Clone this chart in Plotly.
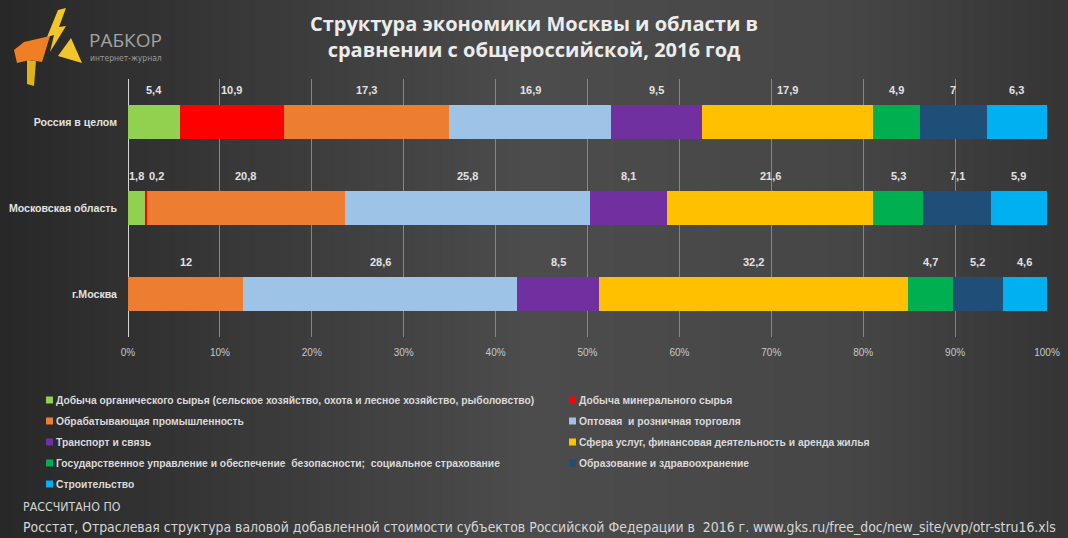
import plotly.graph_objects as go

# ---------------- data ----------------
categories = ["Россия в целом", "Московская область", "г.Москва"]
sectors = [
    "Добыча органического сырья (сельское хозяйство, охота и лесное хозяйство, рыболовство)",
    "Добыча минерального сырья",
    "Обрабатывающая промышленность",
    "Оптовая  и розничная торговля",
    "Транспорт и связь",
    "Сфера услуг, финансовая деятельность и аренда жилья",
    "Государственное управление и обеспечение  безопасности;  социальное страхование",
    "Образование и здравоохранение",
    "Строительство",
]
russia = [5.4, 10.9, 17.3, 16.9, 9.5, 17.9, 4.9, 7, 6.3]
moscow_region = [1.8, 0.2, 20.8, 25.8, 8.1, 21.6, 5.3, 7.1, 5.9]
moscow_city = [0, 0, 12, 28.6, 8.5, 32.2, 4.7, 5.2, 4.6]
x_ticks = [0, 10, 20, 30, 40, 50, 60, 70, 80, 90, 100]
x_tick_labels = [f"{t}%" for t in x_ticks]

colors = ["#92D050", "#FF0000", "#ED7D31", "#9DC3E6", "#7030A0",
          "#FFC000", "#00B050", "#1F4E79", "#00B0F0"]

# ---------------- layout geometry ----------------
W, H = 1068, 538
ML, MR, MT, MB = 128, 21, 79, 201
PW, PH = W - ML - MR, H - MT - MB


def px(x):
    return (x - ML) / PW


def py(y):
    return (H - MB - y) / PH


rows = [russia, moscow_region, moscow_city]

fig = go.Figure()
for i, name in enumerate(sectors):
    fig.add_trace(go.Bar(
        y=categories,
        x=[r[i] for r in rows],
        orientation="h",
        name=name,
        showlegend=False,
        marker=dict(color=colors[i], line=dict(width=0)),
        hovertemplate="%{y}: %{x}<extra></extra>",
    ))

label_font = dict(family="Liberation Sans", size=11, color="#e2e2e2", weight="bold")
annotations = []
shapes = []

# data labels above the bars
for cat, vals in zip(categories, rows):
    total = sum(vals)
    cum = 0.0
    prev_px = None
    for v in vals:
        if v > 0:
            center = (cum + v / 2) / total * 100
            cpx = center / 100 * PW
            shift = 0
            if prev_px is not None and cpx - prev_px < 20:
                shift = prev_px + 20 - cpx
            prev_px = cpx + shift
            annotations.append(dict(
                x=center, y=cat, xref="x", yref="y",
                text=f"{v:g}".replace(".", ","),
                showarrow=False, yshift=32, xshift=shift,
                font=label_font,
            ))
        cum += v

# background gradient
stops = [(0.0, 40), (0.5, 76), (0.8, 70), (1.0, 52)]


def gray_at(t):
    for (t0, g0), (t1, g1) in zip(stops[:-1], stops[1:]):
        if t0 <= t <= t1:
            return g0 + (g1 - g0) * (t - t0) / (t1 - t0)
    return stops[-1][1]


N = 80
for k in range(N):
    x0 = W * k / N
    x1 = W * (k + 1) / N + 1
    g = int(round(gray_at((k + 0.5) / N)))
    shapes.append(dict(type="rect", xref="paper", yref="paper", layer="below",
                       x0=px(x0), x1=px(x1), y0=py(H), y1=py(0),
                       fillcolor=f"rgb({g},{g},{g})", line=dict(width=0)))

# legend (two columns, row-wise order)
leg_font = dict(family="Liberation Sans", size=10.3, color="#dadada", weight="bold")
col_x = [46, 569]
for i, (name, col) in enumerate(zip(sectors, colors)):
    r, c = divmod(i, 2)
    yc = 400 + 21 * r
    xs = col_x[c]
    shapes.append(dict(type="rect", xref="paper", yref="paper", layer="above",
                       x0=px(xs), x1=px(xs + 7), y0=py(yc + 3.5), y1=py(yc - 3.5),
                       fillcolor=col, line=dict(width=0)))
    annotations.append(dict(x=px(xs + 8), y=py(yc), xref="paper", yref="paper",
                            xanchor="left", yanchor="middle", showarrow=False,
                            text=name, font=leg_font))

# logo text
annotations.append(dict(x=px(87), y=py(40), xref="paper", yref="paper", xanchor="left",
                        yanchor="middle", showarrow=False, text="РАБКОР",
                        font=dict(family="Open Sans", size=19, color="#a3a3a3")))
annotations.append(dict(x=px(88), y=py(58), xref="paper", yref="paper", xanchor="left",
                        yanchor="middle", showarrow=False, text="интернет-журнал",
                        font=dict(family="DejaVu Sans Condensed", size=8.5, color="#9a9a9a")))
# source text
annotations.append(dict(x=px(21), y=py(507), xref="paper", yref="paper", xanchor="left",
                        yanchor="middle", showarrow=False, text="РАССЧИТАНО ПО",
                        font=dict(family="DejaVu Sans Condensed", size=12.3, color="#d6d6d6")))
annotations.append(dict(x=px(21), y=py(527), xref="paper", yref="paper", xanchor="left",
                        yanchor="middle", showarrow=False,
                        text="Росстат, Отраслевая структура валовой добавленной стоимости субъектов "
                             "Российской Федерации в  2016 г. www.gks.ru/free_doc/new_site/vvp/otr-stru16.xls",
                        font=dict(family="DejaVu Sans Condensed", size=13.9, color="#d6d6d6")))


def poly(points, color):
    d = "M " + " L ".join(f"{px(x):.5f},{py(y):.5f}" for x, y in points) + " Z"
    return dict(type="path", xref="paper", yref="paper", path=d,
                fillcolor=color, line=dict(width=0), layer="above")


# logo mark (approximate)
shapes.append(poly([(14, 50), (24, 42), (50, 36), (42, 62), (30, 60), (17, 63)], "#EE7F22"))
shapes.append(poly([(27, 60), (36, 61), (34, 86), (27, 84)], "#E0B21C"))
shapes.append(poly([(58, 10), (66, 8), (59, 27), (66, 26), (50, 52), (54, 35), (47, 37)], "#F2C62A"))
shapes.append(poly([(58, 56), (71, 38), (82, 63)], "#F2C62A"))

fig.update_layout(
    width=W, height=H,
    margin=dict(l=ML, r=MR, t=MT, b=MB, pad=0, autoexpand=False),
    paper_bgcolor="#3c3c3c",
    plot_bgcolor="rgba(0,0,0,0)",
    barmode="stack",
    barnorm="percent",
    bargap=0.6,
    title=dict(
        text="Структура экономики Москвы и области в<br>сравнении с общероссийской, 2016 год",
        x=0.5, xref="container", xanchor="center",
        y=1 - 31 / H, yref="container", yanchor="middle",
        font=dict(family="Open Sans", size=20, color="#ececec", weight="bold"),
    ),
    xaxis=dict(
        range=[0, 100], tickmode="array", tickvals=x_ticks, ticktext=x_tick_labels,
        showgrid=True, gridcolor="#858585", gridwidth=1,
        zeroline=True, zerolinecolor="#d5d5d5", zerolinewidth=1,
        showline=False, ticks="", ticklabelstandoff=8,
        tickfont=dict(family="Liberation Sans", size=10, color="#c8c8c8"),
        fixedrange=True, automargin=False,
    ),
    yaxis=dict(
        categoryorder="array", categoryarray=categories, autorange="reversed",
        showgrid=False, zeroline=False, showline=False, ticks="",
        ticklabelstandoff=10,
        tickfont=dict(family="Liberation Sans", size=10.6, color="#e2e2e2", weight="bold"),
        fixedrange=True, automargin=False,
    ),
    annotations=annotations,
    shapes=shapes,
    showlegend=False,
)

fig.write_html(
    "out.html",
    config={"displayModeBar": False},
    post_script="document.body.style.margin='0';document.body.style.overflow='hidden';",
)
